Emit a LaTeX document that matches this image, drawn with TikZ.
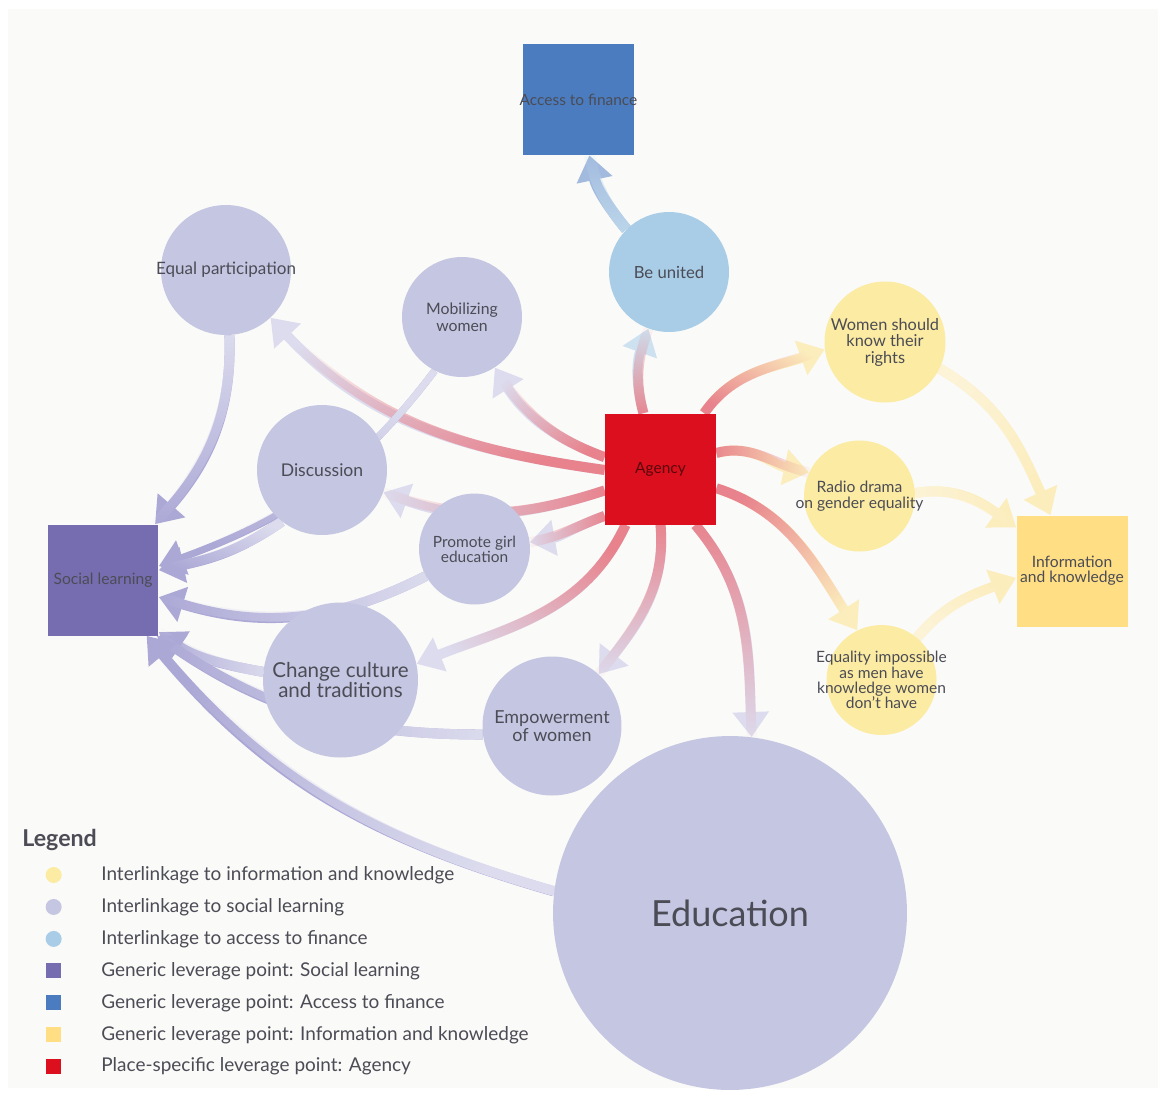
\documentclass[tikz,border=0pt]{standalone}
\usepackage{fontspec}
\setmainfont{Lato}
\usetikzlibrary{positioning,arrows.meta,fadings}

\definecolor{paper}{HTML}{FAFAF8}
\definecolor{txt}{HTML}{4B4C55}
\definecolor{lav}{HTML}{C5C6E2}
\definecolor{sky}{HTML}{A9CDE6}
\definecolor{sun}{HTML}{FCEBA2}
\definecolor{agred}{HTML}{DC0F1E}
\definecolor{slpurple}{HTML}{766DB0}
\definecolor{finblue}{HTML}{4A7CBF}
\definecolor{infoyel}{HTML}{FFDE84}
% link colours
\definecolor{redlink}{HTML}{E8838D}
\definecolor{lavlink}{HTML}{DCDCEE}
\definecolor{purlink}{HTML}{ACA8D6}
\definecolor{yellink}{HTML}{FCEDBC}
\definecolor{yelpale}{HTML}{FDF4D8}
\definecolor{skylink}{HTML}{CDE1F0}
\definecolor{skypale}{HTML}{BCD7EB}
\definecolor{finlink}{HTML}{A2BADE}

\pgfdeclarelayer{paperlayer}
\pgfdeclarelayer{linklayer}
\pgfsetlayers{paperlayer,linklayer,main}

\tikzset{
	lever/.style={rectangle,minimum size=2.22cm,inner sep=0pt},
	bubble/.style={circle,inner sep=0pt},
	lbl/.style={align=center,inner sep=0pt,text=txt,font=\fontsize{9}{9.4}\selectfont},
	link/.style={line width=0.2cm,-{Triangle[length=0.5cm,width=0.7cm]}},
	srcfade/.style 2 args={postaction={draw=#1,arrows=-,path fading=east,fading angle=#2}},
	keytext/.style={inner sep=0pt,minimum height=0.625cm,text=txt,font=\fontsize{10.8}{12}\selectfont},
	keydot/.style={circle,minimum size=0.32cm,inner sep=0pt},
	keybox/.style={rectangle,minimum size=0.3cm,inner sep=0pt},
}

\begin{document}
\begin{tikzpicture}[x=0.02cm,y=-0.02cm]
	\useasboundingbox (0,0) rectangle (1165,1093);
	\begin{pgfonlayer}{paperlayer}
		\fill[paper] (8,9) rectangle (1158,1088);
	\end{pgfonlayer}
	
	% leverage points
	\node[lever,fill=finblue,label={[lbl,font=\fontsize{8.8}{9}\selectfont]center:Access to finance}] (fin) at (578.5,99.5) {};
	\node[lever,fill=agred,label={[lbl,text=black!60!agred,font=\fontsize{8.8}{9}\selectfont]center:Agency}] (agency) at (660.5,469) {};
	\node[lever,fill=slpurple,label={[lbl,font=\fontsize{8.9}{9}\selectfont]center:Social learning}] (soc) at (103,580) {};
	\node[lever,fill=infoyel,label={[lbl,font=\fontsize{8.9}{8.6}\selectfont]center:Information\\and knowledge}] (info) at (1072,571) {};
	
	% interlinkages
	\node[bubble,fill=sky,minimum size=2.4cm,label={[lbl,font=\fontsize{9.5}{10}\selectfont]center:Be united}] (unite) at (669,272) {};
	\node[bubble,fill=lav,minimum size=2.6cm,label={[lbl,font=\fontsize{9.7}{10}\selectfont]center:Equal participation}] (eqpart) at (226,270) {};
	\node[bubble,fill=lav,minimum size=2.4cm,label={[lbl]center:Mobilizing\\women}] (mob) at (462,317) {};
	\node[bubble,fill=lav,minimum size=2.6cm,label={[lbl,font=\fontsize{10}{10}\selectfont]center:Discussion}] (disc) at (322,470) {};
	\node[bubble,fill=lav,minimum size=2.22cm,label={[lbl,font=\fontsize{8.8}{8.6}\selectfont]center:Promote girl\\education}] (promo) at (474.5,549) {};
	\node[bubble,fill=lav,minimum size=3.1cm,label={[lbl,font=\fontsize{11.7}{11.3}\selectfont]center:Change culture\\and traditions}] (cult) at (340.5,680) {};
	\node[bubble,fill=lav,minimum size=2.78cm,label={[lbl,font=\fontsize{10.2}{10.2}\selectfont]center:Empowerment\\of women}] (emp) at (552,726) {};
	\node[bubble,fill=lav,minimum size=7.08cm,label={[lbl,font=\fontsize{20.5}{20}\selectfont]center:Education}] (edu) at (730,913) {};
	\node[bubble,fill=sun,minimum size=2.42cm,label={[lbl,font=\fontsize{9.3}{9.4}\selectfont]center:Women should\\know their\\rights}] (wom) at (885,342) {};
	\node[bubble,fill=sun,minimum size=2.22cm,label={[lbl,font=\fontsize{8.9}{9}\selectfont]center:Radio drama\\on gender equality}] (radio) at (859.5,496) {};
	\node[bubble,fill=sun,minimum size=2.2cm,label={[lbl,font=\fontsize{8.85}{8.7}\selectfont]center:Equality impossible\\as men have\\knowledge women\\don't have}] (equ) at (881.5,680) {};
	
	\begin{pgfonlayer}{linklayer}
		% out of Agency
		\draw[link,draw=skylink,srcfade={redlink}{90}] (agency.107) to[out=105,in=250] (unite.250);
		\draw[link,draw=yellink,srcfade={redlink}{45}] (agency.52) to[out=55,in=200] (wom.187);
		\draw[link,draw=yellink,srcfade={redlink}{0}] (agency.16) to[out=15,in=168] (radio.155);
		\draw[link,draw=yellink,srcfade={redlink}{-45}] (agency.-19) to[out=-18,in=123] (equ.116);
		\draw[link,draw=lavlink,srcfade={redlink}{-90}] (agency.-58) to[out=-50,in=92] (edu.83);
		\draw[link,draw=lavlink,srcfade={redlink}{-90}] (agency.south) to[out=-85,in=52] (emp.48);
		\draw[link,draw=lavlink,srcfade={redlink}{-135}] (agency.-122) to[out=-115,in=22] (cult.12);
		\draw[link,draw=lavlink,srcfade={redlink}{180}] (agency.-140) to[out=200,in=10] (promo.7);
		\draw[link,draw=lavlink,srcfade={redlink}{180}] (agency.201) to[out=198,in=-20] (disc.-20);
		\draw[link,draw=lavlink,srcfade={redlink}{135}] (agency.181) to[out=172,in=-47] (eqpart.-47);
		\draw[link,draw=lavlink,srcfade={redlink}{135}] (agency.168) to[out=160,in=-58] (mob.-57);
		
		% into Access to finance
		\draw[link,line width=0.22cm,draw=finlink,srcfade={skypale}{90}] (unite.135) to[out=129,in=-78] (fin.-79);
		
		% into Information and knowledge
		\draw[link,draw=yellink,srcfade={yelpale}{-45}] (wom.-26) to[out=-30,in=114] (info.111);
		\draw[link,draw=yellink,srcfade={yelpale}{0}] (radio.3) to[out=10,in=144] (info.142);
		\draw[link,draw=yellink,srcfade={yelpale}{45}] (equ.50) to[out=50,in=201] (info.187);
		
		% into Social learning
		\draw[link,draw=purlink,srcfade={lavlink}{-90}] (eqpart.-87) to[out=-88,in=49] (soc.47);
		\draw[link,line width=0.14cm,draw=purlink,srcfade={lavlink}{-135}] (mob.-117) to[out=-127,in=20] (soc.14);
		\draw[link,draw=purlink,srcfade={lavlink}{-135}] (disc.-128) to[out=-145,in=12] (soc.10);
		\draw[link,draw=purlink,srcfade={lavlink}{180}] (promo.209) to[out=207,in=-17] (soc.-17);
		\draw[link,draw=purlink,srcfade={lavlink}{180}] (cult.174) to[out=170,in=-35] (soc.-43);
		\draw[link,draw=purlink,srcfade={lavlink}{180}] (emp.187) to[out=180,in=-34] (soc.-46);
		\draw[link,draw=purlink,srcfade={lavlink}{135}] (edu.173) to[out=164,in=-50] (soc.-52);
	\end{pgfonlayer}
	
	% legend
	\node[anchor=west,inner sep=0pt,text=txt,font=\bfseries\fontsize{13.2}{14}\selectfont] (legend) at (22,840) {Legend};
	\node[keytext,anchor=west] (k1) at (101,875) {Interlinkage to information and knowledge};
	\node[keytext,below=0pt of k1.south west,anchor=north west] (k2) {Interlinkage to social learning};
	\node[keytext,below=0pt of k2.south west,anchor=north west] (k3) {Interlinkage to access to finance};
	\node[keytext,below=0pt of k3.south west,anchor=north west] (k4) {Generic leverage point: Social learning};
	\node[keytext,below=0pt of k4.south west,anchor=north west] (k5) {Generic leverage point: Access to finance};
	\node[keytext,below=0pt of k5.south west,anchor=north west] (k6) {Generic leverage point: Information and knowledge};
	\node[keytext,below=0pt of k6.south west,anchor=north west] (k7) {Place-specific leverage point: Agency};
	
	\node[keydot,fill=sun,left=0.78cm of k1] (m1) {};
	\node[keydot,fill=lav,left=0.78cm of k2] (m2) {};
	\node[keydot,fill=sky,left=0.78cm of k3] (m3) {};
	\node[keybox,fill=slpurple,left=0.79cm of k4] (m4) {};
	\node[keybox,fill=finblue,left=0.79cm of k5] (m5) {};
	\node[keybox,fill=infoyel,left=0.79cm of k6] (m6) {};
	\node[keybox,fill=agred,left=0.79cm of k7] (m7) {};
\end{tikzpicture}
\end{document}
